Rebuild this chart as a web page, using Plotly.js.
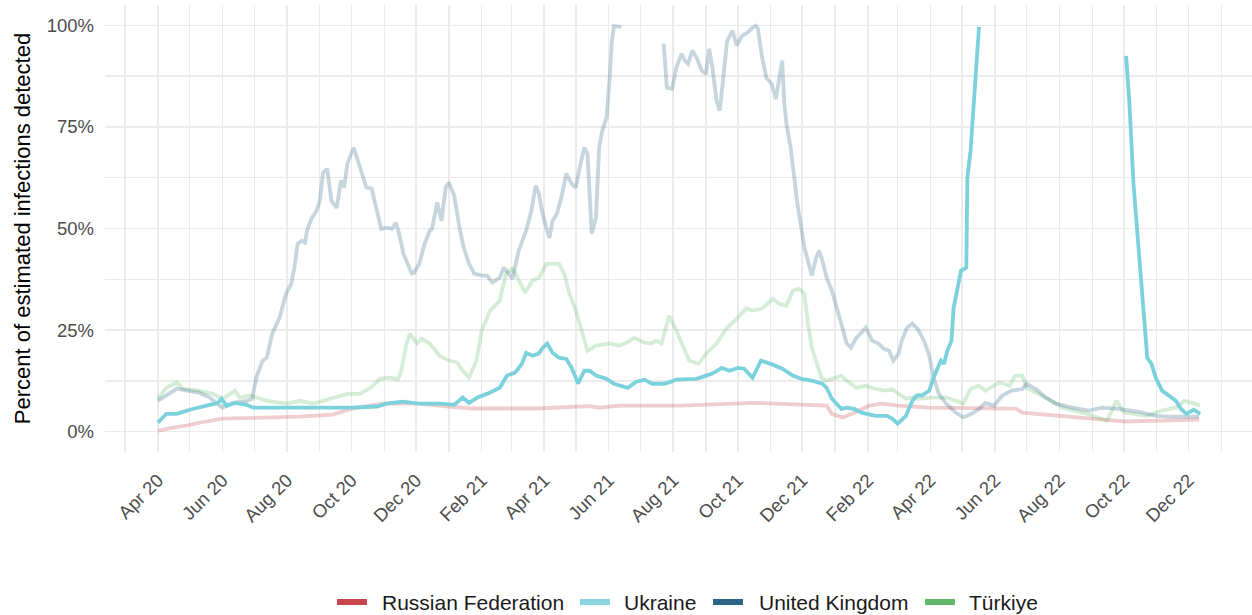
<!DOCTYPE html>
<html>
<head>
<meta charset="utf-8">
<script src="https://cdn.plot.ly/plotly-3.0.1.min.js"></script>
<style>
  html, body { margin: 0; padding: 0; background: #ffffff; }
  #chart { width: 1252px; height: 615px; }
</style>
</head>
<body>
<div id="chart"></div>
<script>
// ---------------- DATA ----------------
const seriesNames = ['Russian Federation', 'Ukraine', 'United Kingdom', 'Türkiye'];

const russiaDates = ['2020-04-01','2020-04-15','2020-04-28','2020-05-10','2020-06-01','2020-06-27','2020-08-13','2020-09-13','2020-10-02','2020-10-30','2020-12-02','2021-01-01','2021-01-23','2021-03-23','2021-05-14','2021-05-23','2021-06-11','2021-08-08','2021-10-17','2021-11-06','2021-12-24','2021-12-29','2022-01-08','2022-01-17','2022-02-02','2022-02-14','2022-03-02','2022-03-31','2022-05-17','2022-06-21','2022-06-27','2022-08-04','2022-09-04','2022-10-03','2022-11-06','2022-12-11'];
const russiaValues = [0.2,1.0,1.5,2.2,3.2,3.4,3.7,4.2,5.7,6.9,6.9,6.2,5.7,5.7,6.3,5.9,6.4,6.4,7.1,6.9,6.4,4.4,3.5,4.4,6.4,6.9,6.4,5.9,5.9,5.7,4.7,3.9,3.2,2.5,2.7,3.0];

const ukraineDates = ['2020-04-01','2020-04-09','2020-04-19','2020-05-01','2020-05-17','2020-05-28','2020-05-31','2020-06-05','2020-06-13','2020-06-24','2020-06-30','2020-08-01','2020-08-29','2020-10-02','2020-10-25','2020-11-03','2020-11-18','2020-12-04','2020-12-23','2021-01-06','2021-01-14','2021-01-20','2021-01-28','2021-02-06','2021-02-18','2021-02-25','2021-03-04','2021-03-06','2021-03-11','2021-03-15','2021-03-21','2021-03-27','2021-03-30','2021-04-04','2021-04-09','2021-04-15','2021-04-22','2021-04-27','2021-05-01','2021-05-03','2021-05-09','2021-05-14','2021-05-20','2021-05-30','2021-06-06','2021-06-19','2021-06-27','2021-07-05','2021-07-12','2021-07-24','2021-08-04','2021-08-13','2021-08-23','2021-09-01','2021-09-07','2021-09-16','2021-09-23','2021-10-01','2021-10-07','2021-10-15','2021-10-23','2021-11-03','2021-11-12','2021-11-22','2021-11-30','2021-12-11','2021-12-20','2021-12-24','2021-12-29','2022-01-07','2022-01-12','2022-01-19','2022-01-26','2022-02-08','2022-02-19','2022-02-24','2022-03-01','2022-03-09','2022-03-15','2022-03-19','2022-03-24','2022-03-31','2022-04-04','2022-04-11','2022-04-14','2022-04-17','2022-04-21','2022-04-23','2022-04-26','2022-04-30','2022-05-05','2022-05-06','2022-05-09','2022-05-12','2022-05-15','2022-05-17','2022-05-18','2022-10-02','2022-10-03','2022-10-06','2022-10-10','2022-10-15','2022-10-20','2022-10-23','2022-10-27','2022-10-31','2022-11-06','2022-11-12','2022-11-19','2022-11-24','2022-11-29','2022-12-06','2022-12-12'];
const ukraineValues = [2.2,4.4,4.4,5.4,6.4,7.1,8.1,6.4,7.1,6.6,5.9,5.9,5.9,5.9,6.2,6.9,7.4,6.9,6.9,6.6,8.4,7.1,8.4,9.3,10.8,13.8,14.5,15.0,16.7,19.4,18.7,19.2,20.4,21.7,19.4,18.2,17.9,15.7,13.3,11.8,15.0,15.0,13.8,13.0,11.8,10.8,12.3,12.8,11.8,11.8,12.8,13.0,13.0,13.8,14.3,15.7,15.0,15.7,15.5,13.3,17.5,16.5,15.5,13.8,13.0,12.5,11.8,10.8,8.1,5.6,5.9,5.6,4.7,3.9,3.9,3.2,2.0,3.9,7.6,8.9,8.9,10.1,13.3,17.5,16.7,19.9,22.4,30.5,34.7,39.6,40.4,62.5,69.1,81.4,93.8,99.6,null,null,92.5,81.4,61.0,44.5,28.1,18.2,16.7,13.3,10.1,8.9,7.6,5.6,4.4,5.4,4.4];

const ukDates = ['2020-04-01','2020-04-19','2020-05-01','2020-05-10','2020-05-20','2020-05-29','2020-06-01','2020-06-11','2020-06-24','2020-06-29','2020-07-03','2020-07-09','2020-07-13','2020-07-18','2020-07-25','2020-07-31','2020-08-05','2020-08-08','2020-08-11','2020-08-15','2020-08-18','2020-08-20','2020-08-24','2020-08-29','2020-09-01','2020-09-04','2020-09-08','2020-09-12','2020-09-17','2020-09-21','2020-09-24','2020-09-27','2020-10-03','2020-10-07','2020-10-11','2020-10-15','2020-10-20','2020-10-25','2020-10-29','2020-11-03','2020-11-08','2020-11-12','2020-11-15','2020-11-19','2020-11-27','2020-11-29','2020-12-04','2020-12-09','2020-12-14','2020-12-16','2020-12-21','2020-12-25','2020-12-29','2021-01-01','2021-01-06','2021-01-11','2021-01-15','2021-01-20','2021-01-25','2021-02-01','2021-02-06','2021-02-11','2021-02-18','2021-02-22','2021-03-02','2021-03-08','2021-03-15','2021-03-20','2021-03-24','2021-03-27','2021-03-30','2021-04-03','2021-04-06','2021-04-09','2021-04-13','2021-04-17','2021-04-22','2021-04-27','2021-05-01','2021-05-04','2021-05-09','2021-05-12','2021-05-14','2021-05-16','2021-05-20','2021-05-23','2021-05-26','2021-05-30','2021-06-02','2021-06-04','2021-06-06','2021-06-13','2021-06-14','2021-07-22','2021-07-23','2021-07-26','2021-07-31','2021-08-04','2021-08-09','2021-08-12','2021-08-15','2021-08-19','2021-08-23','2021-08-28','2021-09-01','2021-09-04','2021-09-07','2021-09-11','2021-09-14','2021-09-16','2021-09-21','2021-09-26','2021-09-30','2021-10-05','2021-10-10','2021-10-15','2021-10-18','2021-10-20','2021-10-24','2021-10-28','2021-10-30','2021-11-02','2021-11-06','2021-11-09','2021-11-12','2021-11-14','2021-11-16','2021-11-20','2021-11-23','2021-11-26','2021-11-30','2021-12-03','2021-12-08','2021-12-10','2021-12-14','2021-12-17','2021-12-20','2021-12-24','2021-12-29','2022-01-03','2022-01-08','2022-01-12','2022-01-16','2022-01-21','2022-01-26','2022-01-30','2022-02-02','2022-02-05','2022-02-11','2022-02-16','2022-02-21','2022-02-25','2022-03-02','2022-03-05','2022-03-10','2022-03-15','2022-03-20','2022-03-26','2022-03-31','2022-04-04','2022-04-09','2022-04-16','2022-04-25','2022-05-02','2022-05-10','2022-05-17','2022-05-23','2022-05-31','2022-06-08','2022-06-17','2022-06-27','2022-07-01','2022-07-10','2022-07-19','2022-07-29','2022-08-13','2022-08-29','2022-09-10','2022-09-26','2022-10-15','2022-10-31','2022-11-12','2022-12-11'];
const ukValues = [7.6,10.6,10.0,9.6,8.4,6.4,5.9,7.1,7.6,8.1,13.3,17.5,18.2,24.1,28.1,33.9,36.4,40.4,46.2,47.0,46.5,49.5,52.4,54.4,56.8,63.7,64.7,56.8,55.1,61.8,60.1,65.9,69.9,66.7,63.5,60.1,59.8,54.4,49.9,50.2,49.9,51.4,48.7,43.8,38.9,39.1,41.3,46.2,49.5,49.9,56.4,51.9,60.1,61.3,58.1,50.2,45.3,41.3,38.9,38.4,38.4,36.7,37.9,40.4,37.6,44.5,49.5,54.4,60.5,58.6,54.4,50.2,47.7,51.9,53.6,57.3,63.5,61.0,60.1,64.2,69.9,68.4,56.8,48.7,52.7,69.9,74.1,77.3,87.1,96.2,99.8,99.6,null,null,95.5,84.6,84.4,89.6,93.0,91.3,90.5,93.8,92.1,88.8,88.0,94.2,89.6,81.4,79.0,84.6,96.2,98.7,95.0,97.4,98.2,99.4,99.9,99.2,92.1,87.1,86.4,85.6,81.9,87.1,91.3,80.7,75.7,69.9,62.5,56.8,50.2,45.3,40.4,38.4,42.8,44.5,42.1,37.9,34.7,30.3,25.3,21.7,20.7,23.1,24.4,25.6,24.1,22.4,21.7,20.4,19.9,17.5,19.2,22.4,25.6,26.6,25.3,22.4,18.7,13.3,9.3,6.9,4.7,3.5,4.4,5.6,7.1,6.4,8.9,10.1,10.5,11.8,10.5,8.4,6.9,5.9,5.2,5.9,5.6,4.9,3.9,3.7,3.7];

const turkiyeDates = ['2020-04-01','2020-04-09','2020-04-19','2020-04-25','2020-05-10','2020-05-23','2020-06-01','2020-06-13','2020-06-17','2020-06-27','2020-07-13','2020-08-01','2020-08-13','2020-08-26','2020-09-08','2020-09-27','2020-10-09','2020-10-19','2020-10-28','2020-11-06','2020-11-14','2020-11-17','2020-11-22','2020-11-25','2020-12-02','2020-12-06','2020-12-14','2020-12-23','2021-01-01','2021-01-09','2021-01-14','2021-01-20','2021-01-27','2021-02-01','2021-02-09','2021-02-18','2021-02-24','2021-03-02','2021-03-07','2021-03-14','2021-03-21','2021-03-27','2021-04-03','2021-04-15','2021-04-20','2021-04-25','2021-05-01','2021-05-07','2021-05-12','2021-05-20','2021-06-02','2021-06-11','2021-06-18','2021-06-25','2021-07-05','2021-07-11','2021-07-16','2021-07-21','2021-07-28','2021-08-04','2021-08-09','2021-08-16','2021-08-25','2021-09-01','2021-09-11','2021-09-20','2021-09-30','2021-10-09','2021-10-15','2021-10-24','2021-11-03','2021-11-09','2021-11-16','2021-11-22','2021-11-28','2021-12-03','2021-12-06','2021-12-10','2021-12-19','2021-12-24','2022-01-02','2022-01-07','2022-01-12','2022-01-21','2022-01-30','2022-02-08','2022-02-18','2022-02-24','2022-03-02','2022-03-09','2022-03-15','2022-03-21','2022-04-03','2022-04-16','2022-04-25','2022-05-02','2022-05-09','2022-05-17','2022-05-23','2022-06-05','2022-06-15','2022-06-20','2022-06-27','2022-07-01','2022-07-19','2022-08-04','2022-08-27','2022-09-15','2022-09-24','2022-10-01','2022-10-23','2022-11-06','2022-11-19','2022-11-27','2022-12-04','2022-12-12'];
const turkiyeValues = [8.1,10.8,12.1,10.5,10.1,9.3,8.1,10.1,8.4,8.9,7.6,6.9,7.6,6.9,7.9,9.3,9.3,10.8,13.0,13.3,13.0,15.0,21.7,24.1,21.7,22.9,21.7,18.7,17.5,17.0,15.0,13.3,17.5,24.9,29.8,32.2,38.9,40.1,37.9,34.2,37.2,37.9,41.3,41.3,38.9,33.9,29.8,24.1,19.9,21.2,21.7,21.2,21.9,23.1,21.9,21.7,22.4,21.7,28.5,24.9,21.7,17.5,16.7,19.2,21.7,25.3,27.8,30.3,29.8,30.3,32.7,31.5,31.0,34.7,35.2,33.9,27.3,20.7,13.3,12.5,13.3,13.8,12.5,10.8,11.3,10.5,10.1,10.5,9.3,8.1,8.4,8.1,8.4,8.4,7.6,6.9,10.5,11.3,10.1,12.1,11.3,13.8,13.8,10.8,8.4,5.9,4.4,2.7,7.6,4.7,3.9,5.2,5.9,7.6,7.1,6.4];

const legendColors = ['#C8474F', '#87D6E0', '#2C6485', '#62B86C'];

const yTickVals = [0, 25, 50, 75, 100];
const yTickLabels = ['0%', '25%', '50%', '75%', '100%'];
const yMinorVals = [12.5, 37.5, 62.5, 87.5];

const xTickVals = ['2020-04-01','2020-06-01','2020-08-01','2020-10-01','2020-12-01','2021-02-01','2021-04-01','2021-06-01','2021-08-01','2021-10-01','2021-12-01','2022-02-01','2022-04-01','2022-06-01','2022-08-01','2022-10-01','2022-12-01'];
const xTickLabels = ['Apr 20','Jun 20','Aug 20','Oct 20','Dec 20','Feb 21','Apr 21','Jun 21','Aug 21','Oct 21','Dec 21','Feb 22','Apr 22','Jun 22','Aug 22','Oct 22','Dec 22'];
const xMinorVals = ['2020-03-01','2020-05-01','2020-07-01','2020-09-01','2020-11-01','2021-01-01','2021-03-01','2021-05-01','2021-07-01','2021-09-01','2021-11-01','2022-01-01','2022-03-01','2022-05-01','2022-07-01','2022-09-01','2022-11-01','2023-01-01'];

// ---------------- TRACES ----------------
const FONT = '"Liberation Sans", Arial, Helvetica, sans-serif';
const LW = 3.8;
const traces = [
  { x: russiaDates, y: russiaValues, mode: 'lines', name: seriesNames[0], showlegend: false, hoverinfo: 'skip',
    line: { color: 'rgba(200,71,79,0.27)', width: LW } },
  { x: turkiyeDates, y: turkiyeValues, mode: 'lines', name: seriesNames[3], showlegend: false, hoverinfo: 'skip',
    line: { color: 'rgba(98,184,108,0.27)', width: LW } },
  { x: ukDates, y: ukValues, mode: 'lines', name: seriesNames[2], showlegend: false, hoverinfo: 'skip', connectgaps: false,
    line: { color: 'rgba(44,100,133,0.27)', width: LW } },
  { x: ukraineDates, y: ukraineValues, mode: 'lines', name: seriesNames[1], showlegend: false, connectgaps: false,
    line: { color: '#7CD2DC', width: LW } }
];

// ---------------- LEGEND (drawn as key swatches + labels below the panel) ----------------
const M = { l: 105, r: 0, t: 5, b: 163 };
const W = 1252, H = 615;
const pw = W - M.l - M.r, ph = H - M.t - M.b;
const px2x = p => (p - M.l) / pw;
const py2y = p => (H - M.b - p) / ph;
const keySwatchLeft = [337, 580, 713, 925];
const keyTextLeft = [380, 622, 757, 967];
const keyY = 602;

const shapes = [];
const annotations = [];
seriesNames.forEach((n, i) => {
  shapes.push({ type: 'line', xref: 'paper', yref: 'paper',
    x0: px2x(keySwatchLeft[i]), x1: px2x(keySwatchLeft[i] + 30),
    y0: py2y(keyY), y1: py2y(keyY),
    line: { color: legendColors[i], width: 6 } });
  annotations.push({ xref: 'paper', yref: 'paper', x: px2x(keyTextLeft[i]), y: py2y(keyY),
    xanchor: 'left', yanchor: 'middle', showarrow: false, text: n,
    font: { family: FONT, size: 21, color: '#1A1A1A' } });
});

const layout = {
  width: W, height: H,
  paper_bgcolor: '#ffffff', plot_bgcolor: '#ffffff',
  margin: { l: M.l, r: M.r, t: M.t, b: M.b, autoexpand: false },
  font: { family: FONT, color: '#4D4D4D' },
  showlegend: false,
  shapes: shapes,
  annotations: annotations,
  xaxis: {
    type: 'date', automargin: false,
    range: ['2020-02-11', '2023-01-30'],
    tickmode: 'array', tickvals: xTickVals, ticktext: xTickLabels,
    tickangle: -45,
    tickfont: { family: FONT, size: 18.5, color: '#4D4D4D' },
    ticks: '', showline: false, zeroline: false,
    showgrid: true, gridcolor: '#EBEBEB', gridwidth: 1.6,
    minor: { tickmode: 'array', tickvals: xMinorVals, showgrid: true, gridcolor: '#EBEBEB', gridwidth: 1.3, ticks: '' },
    ticklabelstandoff: 13
  },
  yaxis: {
    automargin: false,
    range: [-5, 105],
    tickmode: 'array', tickvals: yTickVals, ticktext: yTickLabels,
    tickfont: { family: FONT, size: 18.5, color: '#4D4D4D' },
    ticks: '', showline: false, zeroline: false,
    showgrid: true, gridcolor: '#EBEBEB', gridwidth: 1.6,
    minor: { tickmode: 'array', tickvals: yMinorVals, showgrid: true, gridcolor: '#EBEBEB', gridwidth: 1.3, ticks: '' },
    ticklabelstandoff: 10,
    title: { text: 'Percent of estimated infections detected', font: { family: FONT, size: 22, color: '#000000' }, standoff: 9 }
  }
};

Plotly.newPlot('chart', traces, layout, { displayModeBar: false, staticPlot: true });
</script>
</body>
</html>
